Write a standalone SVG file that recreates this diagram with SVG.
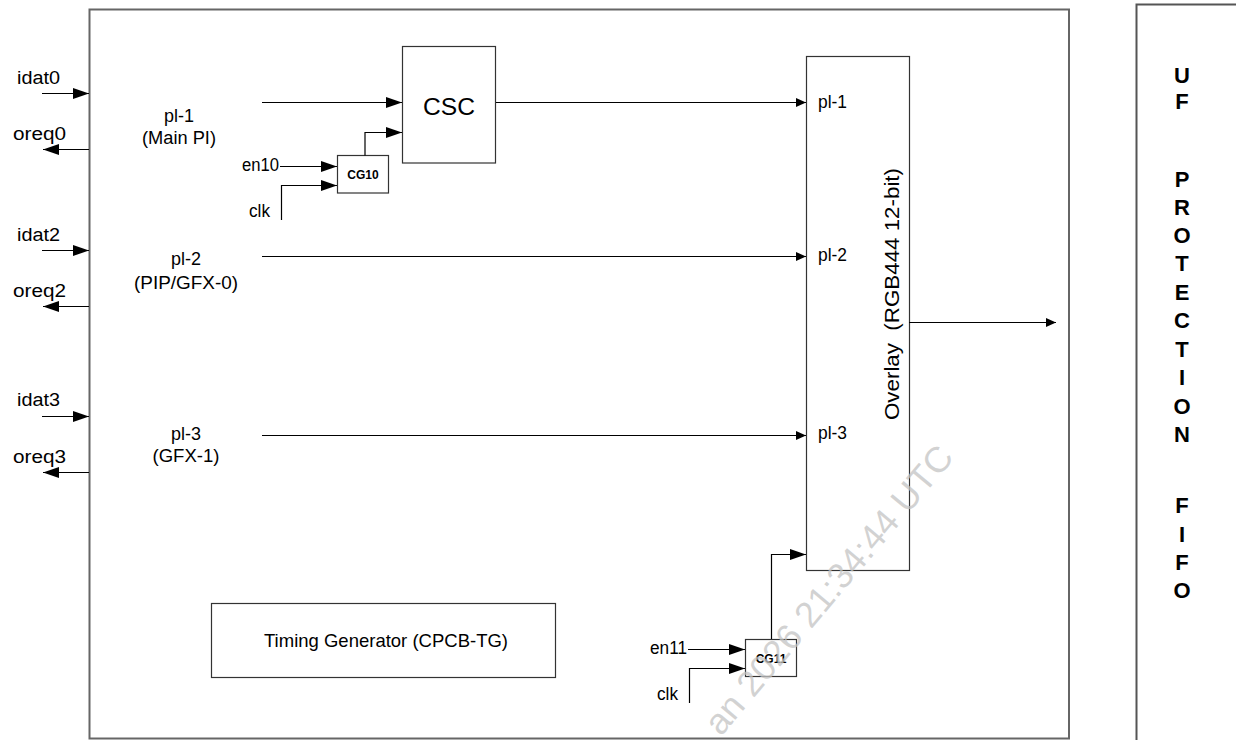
<svg xmlns="http://www.w3.org/2000/svg" width="1236" height="740" viewBox="0 0 1236 740">
<style>
text{font-family:"Liberation Sans",Arial,sans-serif;fill:#000}
.lb{font-size:18px}
.c{text-anchor:middle}
.e{text-anchor:end}
.cg{font-size:12px;font-weight:bold;text-anchor:middle}
.fifo{font-size:22px;font-weight:bold;text-anchor:middle}
.box{fill:#fff;stroke:#333;stroke-width:1.2}
.frame{fill:none;stroke:#666;stroke-width:2}
.w{fill:none;stroke:#000;stroke-width:1.2}
.wa{fill:none;stroke:#000;stroke-width:1.2;marker-end:url(#ah)}
.ws{fill:none;stroke:#000;stroke-width:1.2;marker-end:url(#as)}
.wm{font-size:36px;fill:#c4c4c4;fill-opacity:0.75}
</style>
<defs>
<marker id="ah" markerUnits="userSpaceOnUse" markerWidth="17" markerHeight="12" refX="16" refY="5.5" orient="auto"><path d="M0,0 L16,5.5 L0,11 z" fill="#000"/></marker>
<marker id="as" markerUnits="userSpaceOnUse" markerWidth="11" markerHeight="10" refX="10" refY="4.5" orient="auto"><path d="M0,0 L10,4.5 L0,9 z" fill="#000"/></marker>
</defs>
<rect width="1236" height="740" fill="#fff"/>

<g id="frame">
<rect class="frame" x="89.5" y="9.5" width="979.5" height="729"/>
</g>

<g id="fifo">
<path d="M1136.5,740 V4.5 H1236" fill="none" stroke="#555" stroke-width="2"/>
<text class="fifo" x="1182" y="83">U</text>
<text class="fifo" x="1182" y="109">F</text>
<text class="fifo" x="1182" y="187">P</text>
<text class="fifo" x="1182" y="215">R</text>
<text class="fifo" x="1182" y="243">O</text>
<text class="fifo" x="1182" y="271">T</text>
<text class="fifo" x="1182" y="300">E</text>
<text class="fifo" x="1182" y="328">C</text>
<text class="fifo" x="1182" y="357">T</text>
<text class="fifo" x="1182" y="385">I</text>
<text class="fifo" x="1182" y="414">O</text>
<text class="fifo" x="1182" y="442">N</text>
<text class="fifo" x="1182" y="513">F</text>
<text class="fifo" x="1182" y="542">I</text>
<text class="fifo" x="1182" y="570">F</text>
<text class="fifo" x="1182" y="598">O</text>
</g>

<g id="ports">
<text class="lb" x="17" y="84" textLength="43" lengthAdjust="spacingAndGlyphs">idat0</text>
<text class="lb" x="13" y="140" textLength="53" lengthAdjust="spacingAndGlyphs">oreq0</text>
<text class="lb" x="17" y="241" textLength="43" lengthAdjust="spacingAndGlyphs">idat2</text>
<text class="lb" x="13" y="297" textLength="53" lengthAdjust="spacingAndGlyphs">oreq2</text>
<text class="lb" x="17" y="406" textLength="43" lengthAdjust="spacingAndGlyphs">idat3</text>
<text class="lb" x="13" y="463" textLength="53" lengthAdjust="spacingAndGlyphs">oreq3</text>
</g>

<g id="plane-labels">
<text class="lb c" x="179" y="122" textLength="30" lengthAdjust="spacingAndGlyphs">pl-1</text>
<text class="lb c" x="179" y="144" textLength="74" lengthAdjust="spacingAndGlyphs">(Main PI)</text>
<text class="lb c" x="186" y="265" textLength="30" lengthAdjust="spacingAndGlyphs">pl-2</text>
<text class="lb c" x="186" y="289" textLength="104" lengthAdjust="spacingAndGlyphs">(PIP/GFX-0)</text>
<text class="lb c" x="186" y="440" textLength="30" lengthAdjust="spacingAndGlyphs">pl-3</text>
<text class="lb c" x="186" y="462" textLength="67" lengthAdjust="spacingAndGlyphs">(GFX-1)</text>
</g>

<g id="csc">
<rect class="box" x="402.5" y="46.5" width="93" height="116.5"/>
<text x="449" y="115" font-size="23" text-anchor="middle" textLength="52" lengthAdjust="spacingAndGlyphs">CSC</text>
</g>

<g id="cg10">
<rect class="box" x="337.5" y="155.5" width="51" height="37.5"/>
<text class="cg" x="363" y="179">CG10</text>
<text class="lb e" x="279" y="171" textLength="37" lengthAdjust="spacingAndGlyphs">en10</text>
<text class="lb" x="249" y="217" textLength="21" lengthAdjust="spacingAndGlyphs">clk</text>
</g>

<g id="overlay">
<rect class="box" x="806.5" y="56.5" width="103" height="514"/>
<text class="lb" x="818" y="108" textLength="29" lengthAdjust="spacingAndGlyphs">pl-1</text>
<text class="lb" x="818" y="261" textLength="29" lengthAdjust="spacingAndGlyphs">pl-2</text>
<text class="lb" x="818" y="439" textLength="29" lengthAdjust="spacingAndGlyphs">pl-3</text>
<text font-size="20" text-anchor="middle" textLength="252" lengthAdjust="spacingAndGlyphs" transform="translate(899,294) rotate(-90)">Overlay&#160; (RGB444 12-bit)</text>
</g>

<g id="cg11">
<rect class="box" x="745.5" y="639.5" width="51" height="37"/>
<text class="cg" x="771" y="663">CG11</text>
<text class="lb e" x="687" y="654" textLength="37" lengthAdjust="spacingAndGlyphs">en11</text>
<text class="lb" x="657" y="700" textLength="21" lengthAdjust="spacingAndGlyphs">clk</text>
</g>

<g id="timing-generator">
<rect class="box" x="211.5" y="603.5" width="344" height="74"/>
<text font-size="19" text-anchor="middle" textLength="244" lengthAdjust="spacingAndGlyphs" x="386" y="647">Timing Generator (CPCB-TG)</text>
</g>

<g id="connectors">
<path class="wa" d="M42,93.5 H89"/>
<path class="wa" d="M89,149.5 H43"/>
<path class="wa" d="M42,250.5 H89"/>
<path class="wa" d="M89,306.5 H43"/>
<path class="wa" d="M42,416.5 H89"/>
<path class="wa" d="M89,472.5 H43"/>
<path class="wa" d="M262,102.5 H402"/>
<path class="wa" d="M280,166.5 H337"/>
<path class="wa" d="M281.5,220 V185.5 H337"/>
<path class="wa" d="M365,155.5 V132.5 H402"/>
<path class="ws" d="M496,102.5 H806"/>
<path class="ws" d="M262,256.5 H806"/>
<path class="ws" d="M262,435.5 H806"/>
<path class="wa" d="M688,649.5 H745"/>
<path class="wa" d="M689.5,703 V668.5 H745"/>
<path class="wa" d="M771.5,639 V554.5 H806"/>
<path class="ws" d="M909,322.5 H1056"/>
</g>

<g id="watermark">
<text class="wm" transform="translate(721,737) rotate(-50)">an 2026 21:34:44 UTC</text>
</g>
</svg>
